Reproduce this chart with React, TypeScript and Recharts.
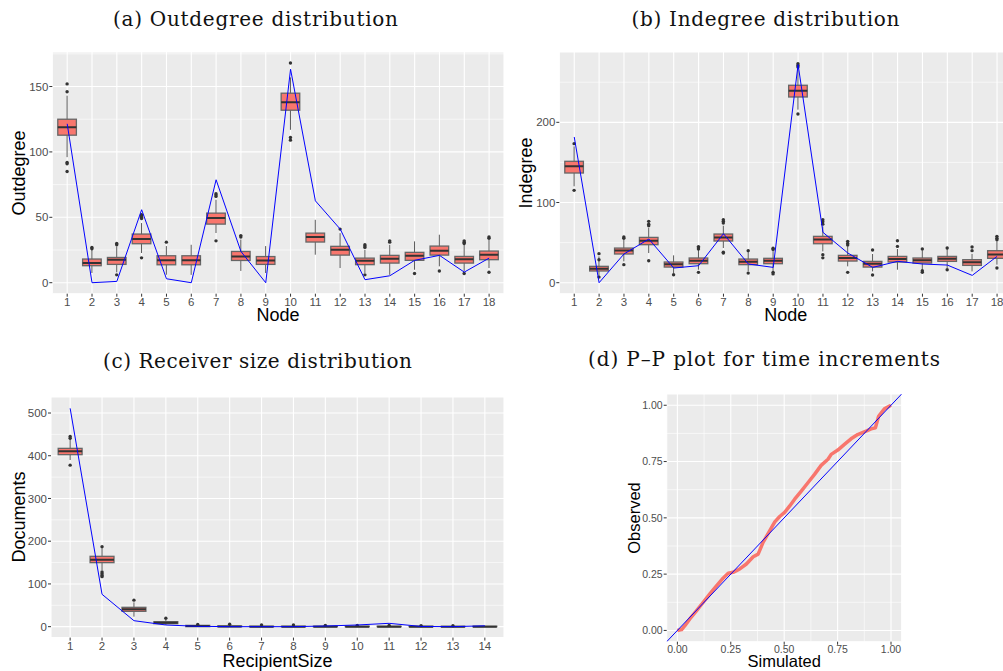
import React from 'react';
import { ComposedChart, Bar, Line, XAxis, YAxis, CartesianGrid } from 'recharts';

// ---------- (a) Outdegree ----------
const nodes = [1, 2, 3, 4, 5, 6, 7, 8, 9, 10, 11, 12, 13, 14, 15, 16, 17, 18];
const outLo = [96, 7.4, 7.9, 22.7, 6.1, 6, 38, 9, 7.4, 116.9, 21.4, 11.2, 7.4, 6, 9.9, 12.5, 8.7, 11.2];
const outQ1 = [112.8, 13, 14, 29.8, 13.7, 13.7, 44.8, 17, 14, 131.9, 31.1, 21.1, 13.8, 15, 17.1, 21.1, 15, 17.6];
const outMed = [118.9, 15, 17.6, 33.4, 17.1, 17.1, 49.4, 20.1, 17, 138, 34.9, 25.2, 16.8, 18.3, 20.6, 24.4, 18, 21.4];
const outQ3 = [125, 18.1, 19.3, 37.2, 20.6, 20.6, 53.2, 23.9, 20, 144.9, 37.9, 27.8, 18.8, 20.9, 23.2, 28, 20.1, 24.2];
const outHi = [143, 25, 27.7, 45.6, 28, 29, 63.4, 33, 28, 157, 48.1, 37.9, 25.2, 29, 31.6, 36.7, 29, 32.8];
const outOutliers = [
  [152, 146, 92, 91, 85], [27, 26], [30, 29, 6], [52, 51, 50, 49, 19], [31], [], [68, 67, 66, 32], [36, 35], [],
  [168, 111, 109], [], [41], [29, 28, 27, 6], [32, 31], [7], [9], [32, 31, 30, 7], [35, 34, 8],
];
const outObserved = [121.5, 0, 1, 55.8, 3, 0, 78.7, 23.9, 0, 163.2, 62.6, 41, 2.3, 5.3, 17.1, 20.9, 8.1, 18.8];

// ---------- (b) Indegree ----------
const inLo = [120.2, 7.9, 26.6, 37, 12, 16.2, 43.2, 14.1, 14.1, 215.8, 39, 20.4, 14.1, 16.2, 16.2, 18.3, 14.1, 22.5];
const inQ1 = [136.8, 14.6, 35.8, 47.4, 19.5, 23.7, 52, 22.5, 23.7, 231.6, 48.6, 27, 19.5, 25.8, 24.5, 26.6, 21.6, 30.4];
const inMed = [145.1, 17.5, 40.3, 52.4, 22.9, 27.4, 56.5, 26.2, 27.4, 239.5, 54, 30.8, 23.7, 29.5, 27.9, 29.9, 25.4, 35.3];
const inQ3 = [151.4, 20.4, 43.2, 56.5, 25.8, 30.8, 60.7, 29.5, 30.4, 246.2, 57.8, 34.1, 26.6, 32.8, 30.8, 32.8, 28.7, 39.9];
const inHi = [170, 32.8, 53.6, 68.2, 34.1, 41.2, 71.1, 38.3, 40.3, 267.8, 70.3, 45.3, 35.8, 42, 40.3, 42, 36, 51.6];
const inOutliers = [
  [173.4, 115.2], [36.2, 28.7, 7], [57, 55.5, 22.5], [76.5, 73, 71, 27.4], [10], [45, 43.5, 42, 12.9],
  [78.6, 76.5, 74.4, 38, 37], [40, 12], [43, 41.5, 12.9, 11], [273, 271, 269, 210.4], [78.6, 76, 73, 35, 31],
  [51.6, 49, 47, 12.9], [40.7, 9.6], [52.4, 45.3], [42, 15, 13], [43.2, 16.2], [44.5, 40], [57.8, 55.5, 53.6, 18.3],
];
const inObserved = [181.7, 0, 35.8, 54.5, 18.3, 21.2, 61.1, 23.3, 19.1, 272, 62.8, 37, 19.1, 26.6, 23.3, 22, 9.1, 32.8];

// ---------- (c) Receiver size ----------
const sizes = [1, 2, 3, 4, 5, 6, 7, 8, 9, 10, 11, 12, 13, 14];
const rsLo = [390, 132.6, 23.4, 3.9, 0, 0, 0, 0, 0, 0, 0, 0, 0, 0];
const rsQ1 = [402.5, 149.8, 35.9, 7, 0, 0, 0, 0, 0, 0, 0, 0, 0, 0];
const rsMed = [410.3, 156.8, 40.6, 9.4, 1.5, 0.5, 0, 0, 0, 0, 0, 0, 0, 0];
const rsQ3 = [417.3, 164.6, 45.2, 11.7, 3, 1.5, 1, 1, 1, 1, 1, 1, 0.5, 1];
const rsHi = [440.7, 183.3, 57, 15.6, 6, 3, 2, 2, 2, 2, 2, 2, 1, 2];
const rsOutliers = [[445, 441, 378], [187, 128, 124, 120, 117], [62], [19.5], [5], [5.5], [4], [4], [3], [3], [3], [2.5], [2], []];
const rsObserved = [511, 75.7, 14, 3.9, 0.8, 0, 0, 0, 1.5, 3.9, 7.8, 0.5, 0, 2];

// ---------- (d) P-P plot ----------
const ppSimulated = [0, 0.02, 0.036, 0.059, 0.09, 0.121, 0.152, 0.184, 0.215, 0.238, 0.261, 0.292, 0.323, 0.355, 0.378, 0.401, 0.432, 0.456, 0.479, 0.502, 0.526, 0.549, 0.58, 0.611, 0.642, 0.673, 0.705, 0.72, 0.751, 0.782, 0.813, 0.844, 0.883, 0.907, 0.927, 0.942, 0.969, 1.0];
const ppObserved = [0, 0.004, 0.022, 0.052, 0.088, 0.125, 0.162, 0.199, 0.233, 0.254, 0.258, 0.273, 0.295, 0.327, 0.339, 0.391, 0.442, 0.482, 0.506, 0.524, 0.553, 0.583, 0.619, 0.656, 0.693, 0.733, 0.76, 0.782, 0.801, 0.826, 0.851, 0.87, 0.885, 0.895, 0.9, 0.951, 0.984, 1.0];
const diagX = [-0.05, 1.05];
const ppTicks = [0, 0.25, 0.5, 0.75, 1];
const ppMinor = [0.125, 0.375, 0.625, 0.875];

const outTicks = [0, 50, 100, 150];
const outMinor = [25, 75, 125, 175];
const inTicks = [0, 100, 200];
const inMinor = [50, 150, 250];
const rsTicks = [0, 100, 200, 300, 400, 500];
const rsMinor = [50, 150, 250, 350, 450];

type Row = { cat: number; lo: number; q1: number; med: number; q3: number; hi: number; out: number[]; obs: number; range: [number, number] };

function buildRows(cats: number[], lo: number[], q1: number[], med: number[], q3: number[], hi: number[], outs: number[][], obs: number[]): Row[] {
  return cats.map((c, i) => ({ cat: c, lo: lo[i], q1: q1[i], med: med[i], q3: q3[i], hi: hi[i], out: outs[i], obs: obs[i], range: [lo[i], hi[i]] }));
}

const outRows = buildRows(nodes, outLo, outQ1, outMed, outQ3, outHi, outOutliers, outObserved);
const inRows = buildRows(nodes, inLo, inQ1, inMed, inQ3, inHi, inOutliers, inObserved);
const rsRows = buildRows(sizes, rsLo, rsQ1, rsMed, rsQ3, rsHi, rsOutliers, rsObserved);
const ppRows = ppSimulated.map((x, i) => ({ x, y: ppObserved[i] }));
const diagRows = diagX.map((x) => ({ x, y: x }));

const BoxShape = (props: any) => {
  const { x, y, width, height, payload } = props;
  if (!payload || !isFinite(y) || !isFinite(height)) return null;
  const top = Math.min(y, y + height);
  const bot = Math.max(y, y + height);
  const { lo, hi, q1, q3, med, out } = payload as Row;
  const px = (v: number) => bot - ((v - lo) * (bot - top)) / (hi - lo);
  const cx = x + width / 2;
  return (
    <g>
      <line x1={cx} x2={cx} y1={px(hi)} y2={px(lo)} stroke="#595959" strokeWidth={1} />
      <rect x={x} y={px(q3)} width={width} height={Math.max(0.01, px(q1) - px(q3))} fill="#F8766D" stroke="#666666" strokeWidth={1.3} />
      <line x1={x} x2={x + width} y1={px(med)} y2={px(med)} stroke="#333333" strokeWidth={2} />
      {out.map((o, k) => (
        <circle key={k} cx={cx} cy={px(o)} r={1.7} fill="#333333" />
      ))}
    </g>
  );
};

const tickStyle = { fill: '#4D4D4D', fontSize: 11.5, fontFamily: 'Liberation Sans, Arial, sans-serif' };

type Rect = { L: number; T: number; R: number; B: number };

function BoxPanel(p: { rows: Row[]; cats: number[]; left: number; plot: Rect; domain: [number, number]; ticks: number[]; minor: number[]; barSize: number }) {
  const { rows, cats, left, plot, domain, ticks, minor, barSize } = p;
  const W = plot.R - left + 6;
  const H = plot.B - plot.T + 40;
  return (
    <div style={{ position: 'absolute', left, top: plot.T - 10, width: W, height: H }}>
      <ComposedChart width={W} height={H} data={rows} margin={{ top: 10, right: 6, bottom: 10, left: 0 }}>
        <CartesianGrid fill="#EBEBEB" stroke="#FFFFFF" strokeWidth={0.6} vertical={false} horizontalValues={minor} />
        <CartesianGrid stroke="#FFFFFF" strokeWidth={1.1} />
        <XAxis
          dataKey="cat"
          type="number"
          domain={[0.4, cats.length + 0.6]}
          ticks={cats}
          allowDataOverflow
          interval={0}
          axisLine={false}
          tickLine={{ stroke: '#333333' }}
          tickSize={3}
          tickMargin={1}
          height={20}
          tick={tickStyle}
        />
        <YAxis
          type="number"
          domain={domain}
          ticks={ticks}
          allowDataOverflow
          interval={0}
          axisLine={false}
          tickLine={{ stroke: '#333333' }}
          tickSize={3}
          tickMargin={1}
          width={plot.L - left}
          tick={tickStyle}
        />
        <Bar dataKey="range" barSize={barSize} shape={BoxShape} isAnimationActive={false} />
        <Line dataKey="obs" stroke="#0000FF" strokeWidth={1} dot={false} isAnimationActive={false} />
      </ComposedChart>
    </div>
  );
}

function PPPanel() {
  const left = 600;
  const plot = { L: 666.7, T: 394, R: 901.7, B: 641.7 };
  const W = plot.R - left + 6;
  const H = plot.B - plot.T + 40;
  const ts = { ...tickStyle, fontSize: 10.5 };
  return (
    <div style={{ position: 'absolute', left, top: plot.T - 10, width: W, height: H }}>
      <ComposedChart width={W} height={H} margin={{ top: 10, right: 6, bottom: 10, left: 0 }}>
        <CartesianGrid fill="#EBEBEB" stroke="#FFFFFF" strokeWidth={0.6} horizontalValues={ppMinor} verticalValues={ppMinor} />
        <CartesianGrid stroke="#FFFFFF" strokeWidth={1.1} />
        <XAxis
          dataKey="x"
          type="number"
          domain={[-0.05, 1.05]}
          ticks={ppTicks}
          allowDataOverflow
          interval={0}
          axisLine={false}
          tickLine={{ stroke: '#333333' }}
          tickSize={3}
          tickMargin={1}
          height={20}
          tick={ts}
          tickFormatter={(v: number) => v.toFixed(2)}
        />
        <YAxis
          type="number"
          domain={[-0.05, 1.05]}
          ticks={ppTicks}
          allowDataOverflow
          interval={0}
          axisLine={false}
          tickLine={{ stroke: '#333333' }}
          tickSize={3}
          tickMargin={1}
          width={plot.L - left}
          tick={ts}
          tickFormatter={(v: number) => v.toFixed(2)}
        />
        <Line data={ppRows} dataKey="y" stroke="#F8766D" strokeWidth={3.5} strokeLinejoin="round" dot={false} isAnimationActive={false} />
        <Line data={diagRows} dataKey="y" stroke="#0000FF" strokeWidth={1} dot={false} isAnimationActive={false} />
      </ComposedChart>
    </div>
  );
}

const serif = 'DejaVu Serif, Liberation Serif, serif';
const sans = 'Liberation Sans, Arial, sans-serif';

export default function App() {
  return (
    <div style={{ position: 'fixed', left: 0, top: 0, width: 1003, height: 671, overflow: 'hidden', background: '#FFFFFF' }}>
      <BoxPanel rows={outRows} cats={nodes} left={0} plot={{ L: 52.3, T: 52.3, R: 504, B: 294 }} domain={[-8.4, 176.4]} ticks={outTicks} minor={outMinor} barSize={18.6} />
      <BoxPanel rows={inRows} cats={nodes} left={505} plot={{ L: 559.3, T: 52.3, R: 1012, B: 294 }} domain={[-13.7, 287.7]} ticks={inTicks} minor={inMinor} barSize={18.6} />
      <BoxPanel rows={rsRows} cats={sizes} left={0} plot={{ L: 51, T: 396.7, R: 504, B: 637.3 }} domain={[-25.6, 537.5]} ticks={rsTicks} minor={rsMinor} barSize={23.9} />
      <PPPanel />
      <svg width={1003} height={671} style={{ position: 'absolute', left: 0, top: 0, pointerEvents: 'none' }}>
        <g fontFamily={serif} fontSize={20} fill="#111111" textAnchor="middle">
          <text x={255.5} y={26} textLength={285} lengthAdjust="spacing">(a) Outdegree distribution</text>
          <text x={765.5} y={26} textLength={268} lengthAdjust="spacing">(b) Indegree distribution</text>
          <text x={257.5} y={368} textLength={309} lengthAdjust="spacing">(c) Receiver size distribution</text>
          <text x={764} y={366} textLength={352} lengthAdjust="spacing">(d) P–P plot for time increments</text>
        </g>
        <g fontFamily={sans} fontSize={18} fill="#000000" textAnchor="middle">
          <text x={278} y={321}>Node</text>
          <text x={785.7} y={321}>Node</text>
          <text x={277.5} y={666.5}>RecipientSize</text>
          <text transform="translate(25,173) rotate(-90)">Outdegree</text>
          <text transform="translate(531.5,173) rotate(-90)">Indegree</text>
          <text transform="translate(25,517) rotate(-90)">Documents</text>
        </g>
        <g fontFamily={sans} fontSize={16.5} fill="#000000" textAnchor="middle">
          <text x={784.2} y={666.5}>Simulated</text>
          <text transform="translate(640,518) rotate(-90)">Observed</text>
        </g>
      </svg>
    </div>
  );
}
